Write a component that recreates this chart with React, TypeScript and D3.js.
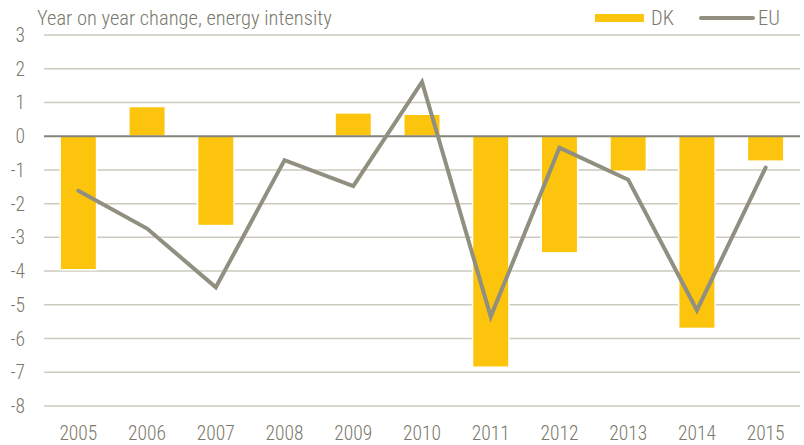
import React, { useEffect, useRef } from 'react';
import * as d3 from 'd3';

const years = ['2005', '2006', '2007', '2008', '2009', '2010', '2011', '2012', '2013', '2014', '2015'];
const dk = [-3.96, 0.88, -2.65, 0, 0.69, 0.65, -6.85, -3.46, -1.04, -5.7, -0.74];
const eu = [-1.62, -2.74, -4.48, -0.71, -1.48, 1.61, -5.35, -0.34, -1.29, -5.16, -0.93];
const yTicks = [3, 2, 1, 0, -1, -2, -3, -4, -5, -6, -7, -8];

const W = 804, H = 445;
const FONT = '"Roboto Condensed", "Arial Narrow", sans-serif';
const TEXT = '#7a796c';
const YELLOW = '#fcc40c';
const GREY = '#908f80';

function Chart() {
  const ref = useRef<SVGSVGElement>(null);

  useEffect(() => {
    const svg = d3.select(ref.current);
    svg.selectAll('*').remove();

    const left = 44, right = 800, top = 35, bottom = 406;

    const x = d3.scaleBand().domain(years).range([left, right]).paddingInner(0.47).paddingOuter(0.235);
    const y = d3.scaleLinear().domain([-8, 3]).range([bottom, top]);

    // gridlines
    svg.append('g').selectAll('line')
      .data(yTicks.filter(t => t !== 0))
      .join('line')
      .attr('x1', left).attr('x2', right)
      .attr('y1', d => y(d)).attr('y2', d => y(d))
      .attr('stroke', '#cbcabd').attr('stroke-width', 1.5);

    // y labels
    svg.append('g').selectAll('text')
      .data(yTicks)
      .join('text')
      .attr('x', 25).attr('y', d => y(d) + 7)
      .attr('text-anchor', 'end')
      .attr('font-family', FONT).attr('font-weight', 300).attr('font-size', 19.5).attr('fill', TEXT)
      .text(d => d);

    // bars
    svg.append('g').selectAll('rect')
      .data(dk.map((v, i) => ({ year: years[i], v })).filter(d => d.v !== 0))
      .join('rect')
      .attr('x', d => x(d.year)!)
      .attr('width', x.bandwidth())
      .attr('y', d => y(Math.max(0, d.v)))
      .attr('height', d => Math.abs(y(d.v) - y(0)))
      .attr('fill', YELLOW)
      .attr('stroke', '#ffffff').attr('stroke-width', 1.5);

    // zero line
    svg.append('line')
      .attr('x1', left).attr('x2', right)
      .attr('y1', y(0)).attr('y2', y(0))
      .attr('stroke', '#85847a').attr('stroke-width', 2);

    // EU line
    const line = d3.line<number>()
      .x((_, i) => x(years[i])! + x.bandwidth() / 2)
      .y(d => y(d));
    svg.append('path')
      .attr('d', line(eu))
      .attr('fill', 'none')
      .attr('stroke', GREY).attr('stroke-width', 4)
      .attr('stroke-linejoin', 'miter').attr('stroke-linecap', 'round');

    // x labels
    svg.append('g').selectAll('text')
      .data(years)
      .join('text')
      .attr('x', d => x(d)! + x.bandwidth() / 2)
      .attr('y', 440)
      .attr('text-anchor', 'middle')
      .attr('font-family', FONT).attr('font-weight', 300).attr('font-size', 19.5).attr('fill', TEXT)
      .text(d => d);

    // title
    svg.append('text')
      .attr('x', 37).attr('y', 25)
      .attr('font-family', FONT).attr('font-weight', 300).attr('font-size', 20.5).attr('fill', TEXT)
      .text('Year on year change, energy intensity');

    // legend
    const lg = svg.append('g');
    lg.append('rect').attr('x', 595).attr('y', 14).attr('width', 49).attr('height', 8).attr('fill', YELLOW);
    lg.append('text').attr('x', 651).attr('y', 25)
      .attr('font-family', FONT).attr('font-weight', 300).attr('font-size', 20.5).attr('fill', TEXT).text('DK');
    lg.append('line').attr('x1', 701).attr('x2', 753).attr('y1', 18).attr('y2', 18)
      .attr('stroke', GREY).attr('stroke-width', 4).attr('stroke-linecap', 'round');
    lg.append('text').attr('x', 758).attr('y', 25)
      .attr('font-family', FONT).attr('font-weight', 300).attr('font-size', 20.5).attr('fill', TEXT).text('EU');
  }, []);

  return <svg ref={ref} width={W} height={H} style={{ display: 'block' }} />;
}

export default function App() {
  return (
    <div style={{ position: 'absolute', left: 0, top: 0, background: '#fff' }}>
      <Chart />
    </div>
  );
}
